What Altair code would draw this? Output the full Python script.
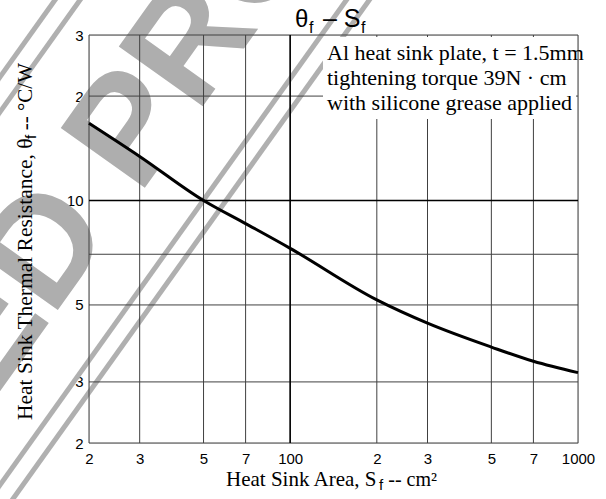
import altair as alt
import pandas as pd

# ---- chart data ----
area = [20, 30, 50, 70, 100, 200, 300, 500, 700, 1000]
theta_f = [16.7, 13.4, 10.0, 8.58, 7.28, 5.17, 4.43, 3.78, 3.44, 3.19]

x_ticks = [20, 30, 50, 70, 100, 200, 300, 500, 700, 1000]
x_tick_labels = ['2', '3', '5', '7', '100', '2', '3', '5', '7', '1000']
y_ticks = [2, 3, 5, 7, 10, 20, 30]
y_tick_labels = ['2', '3', '5', '7', '10', '2', '3']
major_x = [100]
major_y = [10]

note_lines = ["Al heat sink plate, t = 1.5mm",
              "tightening torque 39N \u00b7 cm",
              "with silicone grease applied"]

SANS = "Liberation Sans"
SERIF = "Liberation Serif"
W, H = 489, 408


def label_expr(vals, labels):
    expr = "''"
    for v, l in zip(vals, labels):
        expr = f"(abs(datum.value - {v}) < {v} * 0.001) ? '{l}' : ({expr})"
    return expr


xs = alt.Scale(type='log', domain=[20, 1000], nice=False)
ys = alt.Scale(type='log', domain=[2, 30], nice=False)

x_axis = alt.Axis(values=x_ticks, labelExpr=label_expr(x_ticks, x_tick_labels),
                  title=None, grid=False, domain=False, ticks=False, tickSize=0,
                  labelFont=SANS, labelFontSize=15, labelColor='black',
                  labelPadding=8, labelOverlap=False, labelFlush=False, labelBound=False)
y_axis = alt.Axis(values=y_ticks, labelExpr=label_expr(y_ticks, y_tick_labels),
                  title=None, grid=False, domain=False, ticks=False, tickSize=0,
                  labelFont=SANS, labelFontSize=15, labelColor='black',
                  labelPadding=6, labelOverlap=False, labelFlush=False, labelBound=False)

one = pd.DataFrame({'k': [0]})


def txt(text, x, y, size, font=SERIF, align='left', angle=0, color='black', weight='normal'):
    kw = dict(text=text, align=align, baseline='alphabetic', fontSize=size, font=font,
              color=color, fontWeight=weight)
    if angle:
        kw['angle'] = angle
    return alt.Chart(one).mark_text(**kw).encode(x=alt.value(x), y=alt.value(y))


def seg(x1, y1, x2, y2):
    return alt.Chart(one).mark_rule(color='#b0b0b0', strokeWidth=5, strokeCap='butt').encode(
        x=alt.value(x1), y=alt.value(y1), x2=alt.value(x2), y2=alt.value(y2))


# ---- watermark (decoration) ----
wm_color = '#aeaeae'
watermark = [
    seg(-99, 56, -19, -56),
    seg(-99, 91, 6, -56),
    seg(-109, 478, 281, -68),
    seg(-109, 510, 301, -64),
    txt("PRODUCT", 50, 161, 150, font=SANS, align='left', angle=305.5, color=wm_color, weight='bold'),
    txt("DISCONTINUED", 26, 195, 150, font=SANS, align='right', angle=305.5, color=wm_color, weight='bold'),
]

# ---- grid ----
vgrid = alt.Chart(pd.DataFrame({'x': x_ticks})).mark_rule(color='#404040', strokeWidth=1).encode(
    x=alt.X('x:Q', scale=xs, axis=x_axis))
hgrid = alt.Chart(pd.DataFrame({'y': y_ticks})).mark_rule(color='#404040', strokeWidth=1).encode(
    y=alt.Y('y:Q', scale=ys, axis=y_axis))
vmajor = alt.Chart(pd.DataFrame({'x': major_x})).mark_rule(color='black', strokeWidth=1.5).encode(
    x=alt.X('x:Q', scale=xs, axis=x_axis))
hmajor = alt.Chart(pd.DataFrame({'y': major_y})).mark_rule(color='black', strokeWidth=1.5).encode(
    y=alt.Y('y:Q', scale=ys, axis=y_axis))

curve = alt.Chart(pd.DataFrame({'area': area, 'theta': theta_f})).mark_line(
    color='black', strokeWidth=3, interpolate='monotone').encode(
    x=alt.X('area:Q', scale=xs, axis=x_axis),
    y=alt.Y('theta:Q', scale=ys, axis=y_axis))

box = alt.Chart(one).mark_rect(fill='white', stroke=None).encode(
    x=alt.value(234), x2=alt.value(487), y=alt.value(2), y2=alt.value(84))

notes = [txt(t, 238, 25 + 25 * i, 22) for i, t in enumerate(note_lines)]

title = [
    txt("\u03b8", 206, -8, 24, font=SANS),
    txt("f", 220, -2, 16, font=SANS),
    txt("\u2013 S", 234, -8, 25, font=SANS),
    txt("f", 272, -2, 16, font=SANS),
]

xtitle = [
    txt("Heat Sink Area, S", 137, 451, 21),
    txt("f", 290, 455, 15, font=SANS),
    txt("-- cm\u00b2", 348, 451, 20, align='right'),
]

ytitle = [
    txt("Heat Sink Thermal Resistance, \u03b8", -57, 385, 21.5, angle=270),
    txt("f", -53, 104, 15, font=SANS, angle=270),
    txt("-- \u00b0C/W", -57, 28, 21, align='right', angle=270),
]

chart = alt.layer(
    *watermark, vgrid, hgrid, vmajor, hmajor, curve, box, *notes, *title, *xtitle, *ytitle
).properties(
    width=W, height=H,
    autosize=alt.AutoSizeParams(type='none'),
    padding={'left': 89, 'top': 35, 'right': 28, 'bottom': 56},
).configure_view(stroke='black', strokeWidth=2).configure(background='white')

chart.save("out.html", embed_options={"renderer": "svg", "actions": False})
